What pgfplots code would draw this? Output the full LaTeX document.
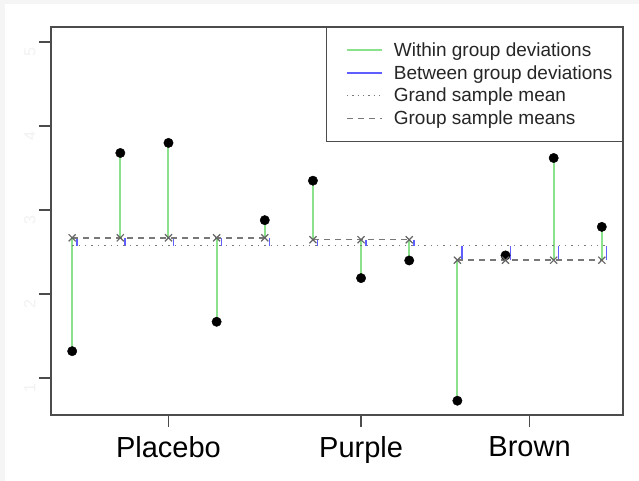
\documentclass[border=0pt]{standalone}
\usepackage{fontspec}
\setmainfont{Liberation Sans}
\usepackage{pgfplots}
\usepackage{pgfplotstable}
\pgfplotsset{compat=1.18}

\definecolor{within}{RGB}{140,225,140}
\definecolor{between}{RGB}{95,95,255}
\definecolor{meangray}{RGB}{120,120,120}

% i = observation, y = response, m = group mean
\pgfplotstableread{
i  y     m
1  1.32  2.670
2  3.68  2.670
3  3.80  2.670
4  1.67  2.670
5  2.88  2.670
6  3.35  2.647
7  2.19  2.647
8  2.40  2.647
9  0.73  2.403
10 2.46  2.403
11 3.62  2.403
12 2.80  2.403
}\obs

\begin{document}
\begin{tikzpicture}[x=1pt,y=1pt]
  \useasboundingbox (0,0) rectangle (639,481);
  \fill[black!4] (0,0) rectangle (639,481);
  \fill[white] (5,0) rectangle (639,477);
  \begin{axis}[
      at={(51pt,66pt)}, anchor=south west,
      scale only axis,
      width=572pt, height=388pt,
      xmin=0.56, xmax=12.44,
      ymin=0.56, ymax=5.18,
      axis line style={black!70, line width=1.3pt},
      tick style={black!70, line width=1.3pt},
      major tick length=12pt,
      tick align=outside,
      xtick pos=left, ytick pos=left,
      xtick={3,7,10.5},
      xticklabels={Placebo,Purple,Brown},
      xticklabel style={font=\fontsize{29}{34}\selectfont, yshift=-6pt},
      ytick={1,2,3,4,5},
      yticklabel style={rotate=90, anchor=south, text=black!5,
        font=\fontsize{16}{18}\selectfont, xshift=-10pt},
      /pgf/number format/assume math mode=true,
      clip=false,
      legend style={at={(1,1)}, anchor=north east,
        draw=black!70, line width=1pt,
        font=\fontsize{19}{22}\selectfont, text=black!85,
        inner xsep=8pt, inner ysep=13pt,
        row sep=3.5pt, cells={anchor=west},
        /tikz/every odd column/.append style={column sep=9pt}},
      legend image code/.code={
        \path (0pt,0pt);
        \draw[#1] (12pt,0pt) -- (47pt,0pt);},
    ]
    \addlegendimage{within, line width=1.3pt}
    \addlegendentry{Within group deviations}
    \addlegendimage{between, line width=1.3pt}
    \addlegendentry{Between group deviations}
    \addlegendimage{meangray, line width=1.3pt, dash pattern=on 1.3pt off 4pt}
    \addlegendentry{Grand sample mean}
    \addlegendimage{meangray, line width=1.5pt, dash pattern=on 6pt off 5pt}
    \addlegendentry{Group sample means}

    % observations
    \addplot[forget plot, only marks, mark=*, mark size=4.7pt, black]
      table[x=i, y=y] {\obs};
    % within group deviations
    \addplot[forget plot, within, line width=2pt,
      quiver={u=0, v=\thisrow{m}-\thisrow{y}}]
      table[x=i, y=y] {\obs};
    % between group deviations
    \addplot[forget plot, between, line width=1.5pt,
      quiver={u=0, v=2.575-\thisrow{m}}]
      table[x expr=\thisrow{i}+0.1, y=m] {\obs};
    % grand mean
    \addplot[forget plot, meangray, line width=1.4pt, dash pattern=on 1.4pt off 5pt]
      coordinates {(1,2.575) (12.1,2.575)};
    % group means
    \addplot[forget plot, meangray, line width=1.5pt, dash pattern=on 6pt off 5pt]
      coordinates {(1,2.670) (5,2.670)};
    \addplot[forget plot, meangray, line width=1.5pt, dash pattern=on 6pt off 5pt]
      coordinates {(6,2.647) (8,2.647)};
    \addplot[forget plot, meangray, line width=1.5pt, dash pattern=on 6pt off 5pt]
      coordinates {(9,2.403) (12,2.403)};
    \addplot[forget plot, only marks, mark=x, mark size=5pt, black!60,
      mark options={line width=1.2pt}]
      table[x=i, y=m] {\obs};
  \end{axis}
\end{tikzpicture}
\end{document}
